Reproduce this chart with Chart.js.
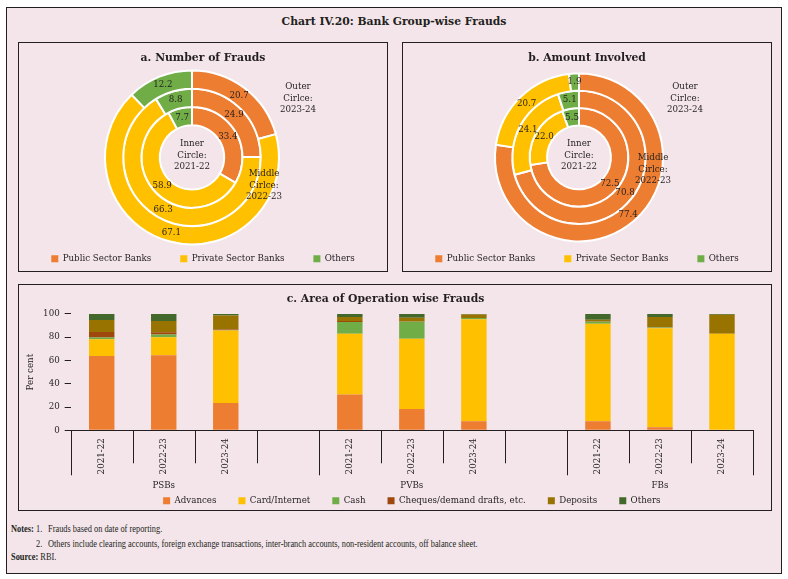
<!DOCTYPE html>
<html>
<head>
<meta charset="utf-8">
<title>Chart IV.20: Bank Group-wise Frauds</title>
<script src="https://cdn.jsdelivr.net/npm/chart.js@4.4.1/dist/chart.umd.min.js"></script>
<style>
    * { box-sizing: border-box; }
    body { margin: 0; width: 788px; height: 579px; position: relative; overflow: hidden; background: #fff; font-family: "DejaVu Serif", serif; color: #231f20; }
    .frame { position: absolute; left: 6px; top: 7px; width: 776px; height: 567px; border: 1px solid #231f20; background: #f3e5ea; }
    .panel { position: absolute; border: 1px solid #231f20; }
    #panel_a { left: 18px; top: 42px; width: 370px; height: 230px; }
    #panel_b { left: 402px; top: 42px; width: 370px; height: 230px; }
    #panel_c { left: 18px; top: 284px; width: 754px; height: 227px; }
    .main-title { position: absolute; left: 0; top: 15px; width: 788px; text-align: center; font-weight: bold; font-size: 10.8px; line-height: 14px; }
    canvas { position: absolute; }
    #fraud_number { left: 18px; top: 42px; }
    #fraud_amount { left: 402px; top: 42px; }
    #fraud_area { left: 18px; top: 284px; }
    .note { position: absolute; font-family: "Liberation Serif", serif; font-size: 9.5px; line-height: 12px; white-space: nowrap; transform: scaleX(0.88); transform-origin: left center; }
</style>
</head>
<body>
<div class="frame"></div>
<div class="main-title">Chart IV.20: Bank Group-wise Frauds</div>
<div class="panel" id="panel_a"></div>
<div class="panel" id="panel_b"></div>
<div class="panel" id="panel_c"></div>
<canvas id="fraud_number" width="370" height="231"></canvas>
<canvas id="fraud_amount" width="370" height="231"></canvas>
<canvas id="fraud_area" width="753" height="231"></canvas>
<div class="note" style="left:11px; top:523px;"><b>Notes:</b></div>
<div class="note" style="left:36px; top:523px;">1.</div>
<div class="note" style="left:48px; top:523px;">Frauds based on date of reporting.</div>
<div class="note" style="left:36px; top:538px;">2.</div>
<div class="note" style="left:48px; top:538px;">Others include clearing accounts, foreign exchange transactions, inter-branch accounts, non-resident accounts, off balance sheet.</div>
<div class="note" style="left:11px; top:551px;"><b>Source:</b> RBI.</div>

<script>
// shares in per cent
const bankSeries = ['Public Sector Banks', 'Private Sector Banks', 'Others'];
const ringYears = ['2023-24', '2022-23', '2021-22'];

const numberShare2021_22 = [33.4, 58.9, 7.7];
const numberShare2022_23 = [24.9, 66.3, 8.8];
const numberShare2023_24 = [20.7, 67.1, 12.2];

const amountShare2021_22 = [72.5, 22.0, 5.5];
const amountShare2022_23 = [70.8, 24.1, 5.1];
const amountShare2023_24 = [77.4, 20.7, 1.9];

const groupNames = ['PSBs', 'PVBs', 'FBs'];
const years = ['2021-22', '2022-23', '2023-24'];
const areaNames = ['Advances', 'Card/Internet', 'Cash', 'Cheques/demand drafts, etc.', 'Deposits', 'Others'];

// PSBs 2021-22..2023-24, gap, PVBs, gap, FBs
const advances = [63.8, 64.6, 23.5, null, 30.7, 18.3, 7.8, null, 7.8, 2.6, 0];
const cardInternet = [14.5, 15.4, 62.3, null, 52.2, 60.3, 87.6, null, 83.8, 85.2, 82.9];
const cash = [1.4, 2.3, 0.3, null, 10.1, 14.7, 1.1, null, 1.7, 0.6, 0];
const cheques = [4.9, 2.0, 0.6, null, 0.9, 0.3, 0.1, null, 0.3, 0.2, 0];
const deposits = [10.2, 9.6, 11.9, null, 3.5, 3.2, 3.0, null, 1.5, 8.8, 16.5];
const others = [5.2, 6.1, 1.4, null, 2.6, 3.2, 0.4, null, 4.9, 2.6, 0.6];
const yTicks = [0, 20, 40, 60, 80, 100];

const ink = '#231f20';
const donutColours = ['#ed7d31', '#ffc000', '#70ad47'];
const areaColours = ['#ed7d31', '#ffc000', '#70ad47', '#9e480e', '#997300', '#43682b'];

Chart.defaults.font.family = '"DejaVu Serif", serif';
Chart.defaults.font.size = 8.7;
Chart.defaults.color = ink;

function ringLabels(shiftX, notes) {
    return {
        id: 'ringLabels',
        beforeDatasetsDraw(chart) {
            chart.ctx.save();
            chart.ctx.translate(shiftX, 0);
        },
        afterDatasetsDraw(chart) {
            let c = chart.ctx;
            c.font = '8.7px "DejaVu Serif"';
            c.fillStyle = ink;
            c.textAlign = 'center';
            c.textBaseline = 'middle';
            chart.data.datasets.forEach(function (ds, i) {
                chart.getDatasetMeta(i).data.forEach(function (arc, j) {
                    let p = arc.tooltipPosition();
                    c.fillText(ds.data[j].toFixed(1), p.x, p.y);
                });
            });
            let centre = chart.getDatasetMeta(0).data[0];
            notes.forEach(function (note) {
                note.lines.forEach(function (line, k) {
                    c.fillText(line, centre.x + note.dx, centre.y + note.dy + (k - 1) * 11.3);
                });
            });
            c.restore();
        }
    };
}

function ringChart(id, title, rings, radius, cutout, shiftX, notes) {
    return new Chart(document.getElementById(id), {
        type: 'doughnut',
        data: {
            labels: bankSeries,
            datasets: rings.map(function (values, i) {
                return {
                    label: ringYears[i],
                    data: values,
                    backgroundColor: donutColours,
                    borderColor: '#ffffff',
                    borderWidth: 2,
                    clip: false
                };
            })
        },
        options: {
            responsive: false,
            animation: false,
            radius: radius,
            cutout: cutout,
            plugins: {
                title: {
                    display: true,
                    text: title,
                    color: ink,
                    font: { size: 10.8, weight: 'bold' },
                    padding: { top: 9.5, bottom: 25 }
                },
                legend: {
                    position: 'bottom',
                    labels: {
                        boxWidth: 7,
                        boxHeight: 7,
                        padding: 29,
                        color: ink,
                        generateLabels: function (chart) {
                            return Chart.overrides.doughnut.plugins.legend.labels.generateLabels(chart).map(function (item) {
                                item.lineWidth = 0;
                                return item;
                            });
                        }
                    }
                },
                tooltip: { enabled: false }
            }
        },
        plugins: [ringLabels(shiftX, notes)]
    });
}

ringChart('fraud_number', 'a. Number of Frauds',
    [numberShare2023_24, numberShare2022_23, numberShare2021_22], 87, '37%', -11, [
        { lines: ['Outer', 'Cirlce:', '2023-24'], dx: 106, dy: -59 },
        { lines: ['Middle', 'Cirlce:', '2022-23'], dx: 72, dy: 28 },
        { lines: ['Inner', 'Circle:', '2021-22'], dx: 0, dy: -2 }
    ]);

ringChart('fraud_amount', 'b. Amount Involved',
    [amountShare2023_24, amountShare2022_23, amountShare2021_22], 84, '38%', -8, [
        { lines: ['Outer', 'Cirlce:', '2023-24'], dx: 106, dy: -59 },
        { lines: ['Middle', 'Cirlce:', '2022-23'], dx: 74, dy: 12 },
        { lines: ['Inner', 'Circle:', '2021-22'], dx: 0, dy: -2 }
    ]);

// category slots with an empty one between bank groups
let barLabels = [];
groupNames.forEach(function (g, i) {
    barLabels = barLabels.concat(years);
    if (i < groupNames.length - 1) barLabels.push('');
});

const groupAxis = {
    id: 'groupAxis',
    afterDraw(chart) {
        let x = chart.scales.x;
        let c = chart.ctx;
        let n = barLabels.length;
        let step = (x.right - x.left) / n;
        c.save();
        c.strokeStyle = ink;
        c.lineWidth = 1;
        for (let i = 0; i <= n; i++) {
            let long = i === 0 || i === n || barLabels[i - 1] === '';
            let px = Math.round(x.left + i * step) + 0.5;
            c.beginPath();
            c.moveTo(px, x.top);
            c.lineTo(px, x.top + (long ? 45 : 33));
            c.stroke();
        }
        c.font = '8.7px "DejaVu Serif"';
        c.fillStyle = ink;
        c.textAlign = 'center';
        c.textBaseline = 'middle';
        groupNames.forEach(function (g, i) {
            c.fillText(g, x.getPixelForValue(i * 4 + 1), x.top + 55);
        });
        c.restore();
    }
};

let areaSeries = [advances, cardInternet, cash, cheques, deposits, others];

new Chart(document.getElementById('fraud_area'), {
    type: 'bar',
    data: {
        labels: barLabels,
        datasets: areaSeries.map(function (values, i) {
            return {
                label: areaNames[i],
                data: values,
                backgroundColor: areaColours[i],
                barPercentage: 0.41,
                categoryPercentage: 1
            };
        })
    },
    options: {
        responsive: false,
        animation: false,
        layout: { padding: { right: 18 } },
        scales: {
            x: {
                stacked: true,
                grid: { display: false, drawTicks: false },
                border: { display: true, color: ink, width: 1 },
                ticks: { autoSkip: false, minRotation: 90, maxRotation: 90, padding: 8, color: ink },
                afterFit: function (scale) { scale.height = 44; }
            },
            y: {
                stacked: true,
                min: 0,
                max: 100,
                afterBuildTicks: function (scale) {
                    scale.ticks = yTicks.map(function (v) { return { value: v }; });
                },
                ticks: { padding: 5, color: ink },
                grid: { drawOnChartArea: false, drawTicks: true, tickLength: 6, color: ink },
                border: { display: false },
                title: { display: true, text: 'Per cent', color: ink, padding: { top: 7.6, bottom: 0 } },
                afterFit: function (scale) { scale.width = 52.7; }
            }
        },
        plugins: {
            title: {
                display: true,
                text: 'c. Area of Operation wise Frauds',
                color: ink,
                font: { size: 10.8, weight: 'bold' },
                padding: { top: 8.5, bottom: 8.5 }
            },
            legend: {
                position: 'bottom',
                fullSize: false,
                labels: { boxWidth: 7, boxHeight: 7, padding: 22, color: ink }
            },
            tooltip: { enabled: false }
        }
    },
    plugins: [groupAxis]
});
</script>
</body>
</html>
